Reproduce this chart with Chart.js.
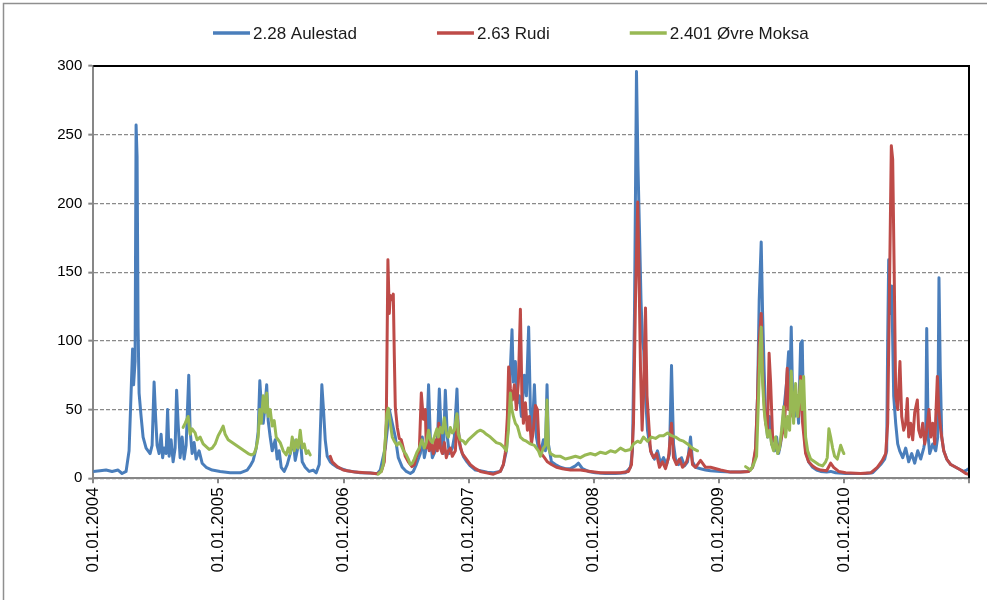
<!DOCTYPE html>
<html>
<head>
<meta charset="utf-8">
<script src="https://cdn.jsdelivr.net/npm/chart.js@4/dist/chart.umd.min.js"></script>
<style>
  html, body { margin: 0; padding: 0; background: #fff; }
  #wrap { position: relative; width: 987px; height: 600px; }
</style>
</head>
<body>
<div id="wrap"><canvas id="c" width="987" height="600"></canvas></div>
<script>
// Daily discharge (m³/s) at three gauging stations, 2004–2010.
// Time is given in decimal years.
const seriesNames = ['2.28 Aulestad', '2.63 Rudi', '2.401 Øvre Moksa'];
const seriesColors = ['#4a7ebb', '#be4b48', '#98b954'];
const yearTicks = [2004, 2005, 2006, 2007, 2008, 2009, 2010, 2011];
const flowTicks = [0, 50, 100, 150, 200, 250, 300];

const aulestadYear = [
  2004.000, 2004.054, 2004.102, 2004.150, 2004.198, 2004.230, 2004.262, 2004.286, 2004.302, 2004.314,
  2004.322, 2004.334, 2004.342, 2004.350, 2004.358, 2004.366, 2004.382, 2004.398, 2004.422, 2004.454,
  2004.470, 2004.486, 2004.498, 2004.510, 2004.526, 2004.542, 2004.554, 2004.566, 2004.582, 2004.594,
  2004.606, 2004.622, 2004.638, 2004.654, 2004.666, 2004.678, 2004.694, 2004.710, 2004.726, 2004.742,
  2004.763, 2004.774, 2004.790, 2004.806, 2004.822, 2004.846, 2004.870, 2004.902, 2004.950, 2005.014,
  2005.094, 2005.174, 2005.230, 2005.254, 2005.278, 2005.302, 2005.318, 2005.331, 2005.342, 2005.358,
  2005.370, 2005.386, 2005.398, 2005.414, 2005.430, 2005.454, 2005.470, 2005.486, 2005.502, 2005.526,
  2005.550, 2005.574, 2005.598, 2005.614, 2005.630, 2005.654, 2005.670, 2005.694, 2005.726, 2005.758,
  2005.782, 2005.806, 2005.827, 2005.840, 2005.854, 2005.870, 2005.894, 2005.918, 2005.950, 2006.030,
  2006.134, 2006.214, 2006.270, 2006.294, 2006.318, 2006.334, 2006.350, 2006.366, 2006.390, 2006.414,
  2006.438, 2006.470, 2006.502, 2006.534, 2006.558, 2006.582, 2006.614, 2006.630, 2006.646, 2006.662,
  2006.680, 2006.694, 2006.710, 2006.734, 2006.750, 2006.766, 2006.782, 2006.798, 2006.814, 2006.830,
  2006.846, 2006.870, 2006.886, 2006.907, 2006.918, 2006.934, 2006.958, 2006.987, 2007.014, 2007.054,
  2007.094, 2007.150, 2007.198, 2007.254, 2007.278, 2007.302, 2007.318, 2007.334, 2007.347, 2007.358,
  2007.374, 2007.390, 2007.406, 2007.422, 2007.446, 2007.462, 2007.480, 2007.494, 2007.510, 2007.526,
  2007.542, 2007.558, 2007.574, 2007.598, 2007.614, 2007.627, 2007.638, 2007.662, 2007.694, 2007.734,
  2007.774, 2007.814, 2007.854, 2007.878, 2007.910, 2007.958, 2008.014, 2008.094, 2008.174, 2008.254,
  2008.294, 2008.310, 2008.326, 2008.342, 2008.354, 2008.366, 2008.378, 2008.390, 2008.400, 2008.414,
  2008.430, 2008.446, 2008.462, 2008.486, 2008.510, 2008.534, 2008.558, 2008.582, 2008.606, 2008.622,
  2008.638, 2008.654, 2008.678, 2008.702, 2008.726, 2008.750, 2008.774, 2008.790, 2008.814, 2008.854,
  2008.894, 2008.934, 2009.014, 2009.094, 2009.174, 2009.238, 2009.270, 2009.294, 2009.310, 2009.323,
  2009.339, 2009.350, 2009.362, 2009.374, 2009.390, 2009.406, 2009.422, 2009.446, 2009.462, 2009.478,
  2009.494, 2009.510, 2009.526, 2009.542, 2009.558, 2009.566, 2009.579, 2009.590, 2009.606, 2009.622,
  2009.638, 2009.654, 2009.667, 2009.678, 2009.694, 2009.718, 2009.750, 2009.782, 2009.814, 2009.862,
  2009.894, 2009.934, 2010.014, 2010.094, 2010.174, 2010.230, 2010.262, 2010.294, 2010.326, 2010.342,
  2010.350, 2010.358, 2010.366, 2010.382, 2010.398, 2010.414, 2010.430, 2010.446, 2010.470, 2010.494,
  2010.518, 2010.542, 2010.566, 2010.590, 2010.614, 2010.638, 2010.654, 2010.662, 2010.674, 2010.686,
  2010.710, 2010.734, 2010.750, 2010.760, 2010.770, 2010.782, 2010.798, 2010.822, 2010.854, 2010.894,
  2010.934, 2010.958, 2010.982, 2010.998
];
const aulestadFlow = [
  5, 5.5, 6, 5, 6, 3.5, 5, 20, 62, 94,
  68, 85, 257, 234, 110, 62, 45, 30, 22, 18,
  24, 70, 45, 24, 18, 32, 15, 22, 18, 50,
  16, 28, 12, 22, 64, 40, 15, 30, 14, 24,
  75, 35, 18, 26, 14, 20, 11, 8, 6, 5,
  4, 4, 6, 9, 13, 22, 34, 71, 55, 40,
  50, 68, 42, 30, 20, 28, 14, 20, 8, 5,
  10, 18, 28, 13, 20, 30, 12, 8, 5, 6,
  4, 10, 68, 50, 28, 16, 12, 10, 8, 5.5,
  4, 3.8, 3.3, 6, 16, 22, 35, 50, 40, 30,
  15, 8, 5, 3.5, 5, 10, 18, 30, 15, 22,
  68, 30, 15, 20, 25, 65, 30, 18, 64, 30,
  18, 22, 30, 65, 35, 22, 16, 12, 9, 6,
  5.5, 4.5, 4, 5, 10, 20, 40, 80, 108, 70,
  85, 55, 60, 45, 75, 60, 110, 50, 35, 68,
  30, 22, 18, 28, 20, 68, 25, 12, 10, 8,
  7, 7, 9, 11, 7, 5, 4, 3.5, 3.5, 4,
  8, 20, 120, 296, 227, 180, 130, 100, 93, 60,
  35, 25, 18, 14, 20, 11, 15, 10, 18, 82,
  25, 14, 10, 15, 9, 12, 30, 12, 8, 7,
  6, 5.5, 5, 4.5, 4.5, 5, 8, 20, 60, 130,
  172, 120, 80, 45, 30, 45, 25, 20, 30, 18,
  25, 40, 55, 70, 92, 60, 110, 60, 45, 60,
  40, 98, 100, 40, 20, 12, 8, 6, 5, 4.5,
  5, 4, 3.5, 3.5, 3.5, 4, 7, 10, 14, 20,
  100, 159, 120, 140, 60, 40, 25, 20, 15, 22,
  12, 18, 11, 20, 14, 22, 30, 109, 30, 18,
  25, 20, 30, 146, 80, 30, 20, 14, 10, 8,
  6, 5, 6, 7
];

const rudiYear = [
  2005.894, 2005.910, 2005.950, 2005.998, 2006.030, 2006.094, 2006.174, 2006.214, 2006.270, 2006.302,
  2006.326, 2006.342, 2006.355, 2006.366, 2006.374, 2006.387, 2006.398, 2006.406, 2006.414, 2006.430,
  2006.446, 2006.462, 2006.478, 2006.494, 2006.518, 2006.547, 2006.566, 2006.587, 2006.606, 2006.622,
  2006.638, 2006.654, 2006.662, 2006.670, 2006.686, 2006.702, 2006.718, 2006.734, 2006.750, 2006.762,
  2006.774, 2006.790, 2006.806, 2006.822, 2006.838, 2006.854, 2006.870, 2006.894, 2006.910, 2006.926,
  2006.950, 2006.982, 2007.014, 2007.054, 2007.094, 2007.142, 2007.198, 2007.254, 2007.278, 2007.294,
  2007.310, 2007.320, 2007.334, 2007.350, 2007.366, 2007.382, 2007.398, 2007.414, 2007.426, 2007.438,
  2007.454, 2007.470, 2007.486, 2007.502, 2007.518, 2007.534, 2007.550, 2007.562, 2007.582, 2007.606,
  2007.630, 2007.662, 2007.702, 2007.750, 2007.814, 2007.894, 2007.974, 2008.054, 2008.134, 2008.214,
  2008.278, 2008.302, 2008.318, 2008.334, 2008.352, 2008.362, 2008.374, 2008.387, 2008.398, 2008.414,
  2008.426, 2008.438, 2008.454, 2008.478, 2008.502, 2008.526, 2008.550, 2008.574, 2008.598, 2008.622,
  2008.638, 2008.662, 2008.686, 2008.710, 2008.742, 2008.774, 2008.790, 2008.814, 2008.854, 2008.894,
  2008.934, 2009.014, 2009.094, 2009.174, 2009.238, 2009.270, 2009.294, 2009.310, 2009.323, 2009.339,
  2009.350, 2009.358, 2009.374, 2009.390, 2009.402, 2009.414, 2009.430, 2009.454, 2009.478, 2009.502,
  2009.526, 2009.547, 2009.558, 2009.574, 2009.590, 2009.606, 2009.627, 2009.638, 2009.654, 2009.670,
  2009.694, 2009.718, 2009.750, 2009.782, 2009.814, 2009.862, 2009.894, 2009.918, 2009.958, 2010.014,
  2010.134, 2010.214, 2010.267, 2010.307, 2010.334, 2010.350, 2010.362, 2010.379, 2010.390, 2010.402,
  2010.414, 2010.430, 2010.448, 2010.462, 2010.478, 2010.494, 2010.507, 2010.518, 2010.534, 2010.550,
  2010.566, 2010.587, 2010.598, 2010.614, 2010.630, 2010.646, 2010.662, 2010.680, 2010.694, 2010.710,
  2010.726, 2010.747, 2010.758, 2010.774, 2010.798, 2010.822, 2010.854, 2010.894, 2010.934, 2010.974,
  2010.998
];
const rudiFlow = [
  16, 12, 8.5, 6, 5.5, 4.5, 4, 3.8, 3.3, 5,
  12, 40, 159, 120, 133, 130, 134, 90, 52, 37,
  29, 28, 22, 16, 12, 8.5, 10, 17, 20, 62,
  43, 50, 22, 34, 20, 25, 18, 28, 20, 40,
  22, 18, 26, 15, 20, 22, 16, 20, 45, 26,
  18, 14, 10, 7, 5, 4, 3, 5, 10, 19,
  45, 81, 65, 57, 68, 50, 70, 123, 60, 40,
  55, 35, 45, 25, 35, 53, 50, 25, 18, 15,
  12, 10, 8, 7, 6, 6, 5, 4, 4, 4,
  5, 10, 40, 130, 201, 150, 80, 35, 60, 124,
  60, 43, 20, 15, 18, 8, 12, 7, 15, 40,
  15, 10, 14, 8, 12, 22, 10, 8, 13, 8,
  8, 6, 4.5, 4.5, 5, 8, 22, 60, 100, 120,
  80, 62, 40, 35, 91, 70, 30, 25, 20, 30,
  40, 80, 50, 65, 45, 55, 60, 45, 74, 40,
  18, 12, 9, 7, 6, 5.5, 11, 8, 5, 4,
  3.5, 4, 8, 13, 18, 40, 120, 242, 232, 150,
  60, 50, 85, 45, 35, 40, 58, 30, 40, 28,
  48, 57, 35, 30, 40, 25, 35, 50, 30, 40,
  25, 74, 50, 35, 20, 14, 10, 8, 6, 3.5,
  3
];

// Øvre Moksa has gaps in the record (null breaks the line)
const moksaYear = [
  2004.718, 2004.734, 2004.758, 2004.774, 2004.790, 2004.814, 2004.830, 2004.854, 2004.878, 2004.902,
  2004.926, 2004.950, 2004.974, 2004.998, 2005.022, 2005.038, 2005.054, 2005.078, 2005.110, 2005.142,
  2005.174, 2005.206, 2005.238, 2005.262, 2005.286, 2005.302, 2005.318, 2005.331, 2005.342, 2005.358,
  2005.374, 2005.386, 2005.398, 2005.414, 2005.430, 2005.446, 2005.462, 2005.478, 2005.494, 2005.518,
  2005.542, 2005.558, 2005.574, 2005.590, 2005.606, 2005.622, 2005.638, 2005.654, 2005.670, 2005.686,
  2005.702, 2005.718, 2005.734, 2006.000,
  2006.278, 2006.302, 2006.318, 2006.334, 2006.347, 2006.358, 2006.374, 2006.390, 2006.406, 2006.427,
  2006.446, 2006.462, 2006.480, 2006.502, 2006.518, 2006.534, 2006.550, 2006.566, 2006.587, 2006.606,
  2006.627, 2006.646, 2006.662, 2006.680, 2006.694, 2006.710, 2006.726, 2006.747, 2006.758, 2006.774,
  2006.790, 2006.806, 2006.822, 2006.838, 2006.854, 2006.870, 2006.886, 2006.907, 2006.918, 2006.934,
  2006.958, 2006.974, 2006.998, 2007.022, 2007.046, 2007.070, 2007.094, 2007.118, 2007.142, 2007.174,
  2007.198, 2007.222, 2007.254, 2007.278, 2007.302, 2007.318, 2007.334, 2007.346, 2007.358, 2007.374,
  2007.390, 2007.414, 2007.438, 2007.462, 2007.494, 2007.526, 2007.558, 2007.574, 2007.598, 2007.614,
  2007.627, 2007.638, 2007.654, 2007.694, 2007.734, 2007.774, 2007.814, 2007.854, 2007.894, 2007.934,
  2007.974, 2008.014, 2008.054, 2008.094, 2008.134, 2008.174, 2008.214, 2008.254, 2008.294, 2008.318,
  2008.350, 2008.374, 2008.398, 2008.430, 2008.462, 2008.494, 2008.526, 2008.558, 2008.590, 2008.622,
  2008.654, 2008.686, 2008.718, 2008.750, 2008.774, 2008.806, 2008.830, 2009.000,
  2009.214, 2009.238, 2009.254, 2009.278, 2009.302, 2009.318, 2009.330, 2009.339, 2009.350, 2009.362,
  2009.374, 2009.390, 2009.406, 2009.422, 2009.438, 2009.454, 2009.470, 2009.486, 2009.502, 2009.518,
  2009.534, 2009.550, 2009.566, 2009.579, 2009.598, 2009.614, 2009.630, 2009.654, 2009.666, 2009.678,
  2009.694, 2009.710, 2009.734, 2009.766, 2009.798, 2009.830, 2009.854, 2009.867, 2009.880, 2009.894,
  2009.910, 2009.926, 2009.947, 2009.958, 2009.974, 2009.990, 2010.000
];
const moksaFlow = [
  37, 40, 45, 32, 36, 33, 28, 30, 25, 23,
  21, 22, 25, 31, 35, 38, 32, 28, 26, 24,
  22, 20, 18, 17, 18, 22, 30, 50, 40, 60,
  48, 62, 45, 50, 38, 42, 30, 28, 26, 20,
  17, 22, 18, 30, 20, 28, 22, 35, 22, 25,
  18, 20, 17, null,
  3, 5, 10, 28, 47, 51, 40, 30, 27, 24,
  26, 24, 20, 17, 14, 10, 11, 14, 19, 22,
  28, 22, 26, 35, 28, 26, 30, 36, 30, 37,
  33, 44, 33, 30, 37, 33, 35, 47, 32, 28,
  27, 25, 28, 30, 32, 34, 35, 34, 32, 30,
  28, 26, 25, 23, 20, 35, 62, 50, 45, 40,
  38, 30, 28, 27, 25, 24, 20, 16, 22, 24,
  57, 22, 18, 16, 16, 14, 15, 16, 15, 17,
  18, 17, 19, 18, 20, 19, 22, 20, 21, 25,
  27, 26, 30, 27, 30, 29, 31, 31, 33, 31,
  30, 28, 27, 25, 23, 21, 20, null,
  8.5, 7, 6, 10, 16, 60, 95, 110, 70, 50,
  40, 30, 35, 25, 20, 30, 18, 22, 35, 52,
  30, 45, 35, 78, 40, 69, 45, 71, 50, 74,
  30, 20, 14, 12, 10, 9, 12, 15, 36, 30,
  22, 16, 14, 18, 24, 20, 18
];

function toPoints(years, flows) {
  return years.map((t, i) => ({ x: t, y: flows[i] }));
}

const datasets = [
  { data: toPoints(aulestadYear, aulestadFlow), order: 3 },
  { data: toPoints(rudiYear, rudiFlow), order: 2 },
  { data: toPoints(moksaYear, moksaFlow), order: 1 }
].map((d, i) => Object.assign(d, {
  label: seriesNames[i],
  borderColor: seriesColors[i],
  backgroundColor: seriesColors[i],
  borderWidth: 3,
  pointRadius: 0,
  tension: 0,
  spanGaps: false,
  borderJoinStyle: 'round',
  borderCapStyle: 'round'
}));

const AXIS_GREY = '#878787';
const TICK_FONT = '"Liberation Sans", Arial, sans-serif';

// Page frame, plot-area border and the legend row
const decorations = {
  id: 'decorations',
  beforeDraw(chart) {
    const { ctx } = chart;
    ctx.save();
    ctx.fillStyle = '#ffffff';
    ctx.fillRect(0, 0, chart.width, chart.height);
    ctx.strokeStyle = '#8f8f8f';
    ctx.lineWidth = 1.5;
    ctx.strokeRect(3.5, 3.5, chart.width + 20, chart.height + 20);
    ctx.restore();
  },
  afterDatasetsDraw(chart) {
    const { ctx, chartArea: a } = chart;
    ctx.save();
    ctx.strokeStyle = '#000000';
    ctx.lineWidth = 2;
    ctx.beginPath();
    ctx.moveTo(a.left, a.top);
    ctx.lineTo(a.right, a.top);
    ctx.lineTo(a.right, a.bottom);
    ctx.stroke();
    ctx.restore();
  },
  afterDraw(chart) {
    const { ctx } = chart;
    ctx.save();
    ctx.font = '17px "Liberation Sans", Arial, sans-serif';
    ctx.textBaseline = 'middle';
    const y = 33;
    const lineLen = 37, textGap = 3, itemGap = 80;
    let x = 213;
    chart.data.datasets.forEach(ds => {
      ctx.strokeStyle = ds.borderColor;
      ctx.lineWidth = 3.5;
      ctx.beginPath();
      ctx.moveTo(x, y);
      ctx.lineTo(x + lineLen, y);
      ctx.stroke();
      ctx.fillStyle = '#1a1a1a';
      ctx.fillText(ds.label, x + lineLen + textGap, y + 1);
      x += lineLen + textGap + ctx.measureText(ds.label).width + itemGap;
    });
    ctx.restore();
  }
};

new Chart(document.getElementById('c'), {
  type: 'line',
  data: { datasets },
  options: {
    responsive: false,
    animation: false,
    events: [],
    layout: { padding: { top: 66, right: 18, left: 0, bottom: 0 } },
    plugins: { legend: { display: false }, tooltip: { enabled: false } },
    scales: {
      x: {
        type: 'linear',
        min: yearTicks[0],
        max: yearTicks[yearTicks.length - 1],
        afterBuildTicks(scale) { scale.ticks = yearTicks.map(v => ({ value: v })); },
        afterFit(scale) {
          scale.height = 121.7;
          scale.paddingLeft = 0;
          scale.paddingRight = 0;
        },
        ticks: {
          minRotation: 90,
          maxRotation: 90,
          padding: 4,
          color: '#000',
          font: { family: TICK_FONT, size: 17 },
          callback: v => (v < yearTicks[yearTicks.length - 1] ? '01.01.' + v : '')
        },
        grid: { drawOnChartArea: false, tickLength: 5, color: AXIS_GREY, lineWidth: 2 },
        border: { color: AXIS_GREY, width: 2 }
      },
      y: {
        min: flowTicks[0],
        max: flowTicks[flowTicks.length - 1],
        afterBuildTicks(scale) { scale.ticks = flowTicks.map(v => ({ value: v })); },
        afterFit(scale) {
          scale.width = 93.3;
          scale.paddingTop = 0;
          scale.paddingBottom = 0;
        },
        ticks: {
          padding: 6,
          color: '#000',
          font: { family: TICK_FONT, size: 15 }
        },
        grid: { color: '#8a8a8a', lineWidth: 1.3, tickLength: 5, tickColor: AXIS_GREY, tickWidth: 2, tickBorderDash: [] },
        border: { color: AXIS_GREY, width: 2, dash: [4, 2] }
      }
    }
  },
  plugins: [decorations]
});
</script>
</body>
</html>
